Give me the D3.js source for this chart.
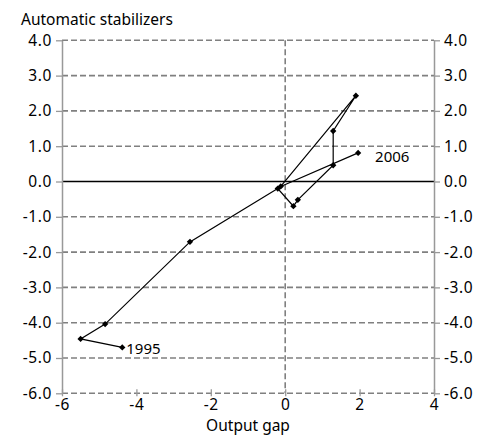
<!DOCTYPE html>
<html>
<head>
<meta charset="utf-8">
<script src="https://cdn.jsdelivr.net/npm/d3@7"></script>
<style>
  body { margin: 0; background: #fff; }
  svg text { font-family: "Noto Sans", "DejaVu Sans", sans-serif; fill: #000; }
</style>
</head>
<body>
<div id="chart"></div>
<script>
// data: output gap (x) vs automatic stabilizers (y), 1995-2006
const years = [1995, 1996, 1997, 1998, 1999, 2000, 2001, 2002, 2003, 2004, 2005, 2006];
const outputGap = [-4.38, -5.50, -4.84, -2.56, -0.20, 0.22, 0.34, 1.29, 1.29, 1.90, -0.12, 1.96];
const stabilizers = [-4.70, -4.46, -4.04, -1.71, -0.20, -0.70, -0.52, 0.46, 1.43, 2.43, -0.14, 0.81];
const yTicks = [-6, -5, -4, -3, -2, -1, 0, 1, 2, 3, 4];
const xTicks = [-6, -4, -2, 0, 2, 4];
const labelled = [1995, 2006];

const width = 491;
const height = 435;

const svg = d3.select("#chart")
  .append("svg")
  .attr("width", width)
  .attr("height", height);

const x = d3.scaleLinear().domain([-6, 4]).range([62, 434]);
const y = d3.scaleLinear().domain([-6, 4]).range([393.3, 40.3]);

// gridlines
svg.append("g")
  .selectAll("line")
  .data(yTicks.filter(d => d !== 0))
  .join("line")
  .attr("x1", x(-6)).attr("x2", x(4))
  .attr("y1", d => y(d)).attr("y2", d => y(d))
  .attr("stroke", "#808080")
  .attr("stroke-width", 1.6)
  .attr("stroke-dasharray", "6,3");

svg.append("line")
  .attr("x1", x(0)).attr("x2", x(0))
  .attr("y1", y(4)).attr("y2", y(-6))
  .attr("stroke", "#808080")
  .attr("stroke-width", 1.6)
  .attr("stroke-dasharray", "6,3");

// zero line
svg.append("line")
  .attr("x1", x(-6)).attr("x2", x(4))
  .attr("y1", y(0)).attr("y2", y(0))
  .attr("stroke", "#000")
  .attr("stroke-width", 1.3);

const fmt = d => d.toFixed(1);

// left axis
const left = svg.append("g")
  .attr("transform", `translate(${x(-6)},0)`)
  .call(d3.axisLeft(y).tickValues(yTicks).tickFormat(fmt).tickSizeInner(6).tickSizeOuter(0).tickPadding(4));

// right axis
const right = svg.append("g")
  .attr("transform", `translate(${x(4)},0)`)
  .call(d3.axisRight(y).tickValues(yTicks).tickFormat(fmt).tickSizeInner(6).tickSizeOuter(0).tickPadding(4));

// bottom axis
const bottom = svg.append("g")
  .attr("transform", `translate(0,${y(-6)})`)
  .call(d3.axisBottom(x).tickValues(xTicks).tickFormat(d => String(d)).tickSizeInner(4).tickSizeOuter(0).tickPadding(2));
bottom.select(".domain").remove();
bottom.selectAll(".tick line").attr("y1", -4).attr("y2", 3);

for (const g of [left, right, bottom]) {
  g.select(".domain").attr("stroke", "#999").attr("stroke-width", 1.5);
  g.selectAll(".tick line").attr("stroke", "#999").attr("stroke-width", 1.3);
  g.selectAll(".tick text")
    .attr("fill", "#000")
    .style("font-size", "15.5px")
    .style("letter-spacing", "0.6px");
}

// data line
const pts = years.map((yr, i) => ({ year: yr, gap: outputGap[i], stab: stabilizers[i] }));

svg.append("path")
  .datum(pts)
  .attr("fill", "none")
  .attr("stroke", "#000")
  .attr("stroke-width", 1.2)
  .attr("d", d3.line().x(d => x(d.gap)).y(d => y(d.stab)));

svg.append("g")
  .selectAll("path")
  .data(pts)
  .join("path")
  .attr("d", d3.symbol().type(d3.symbolSquare).size(20))
  .attr("transform", d => `translate(${x(d.gap)},${y(d.stab)}) rotate(45)`)
  .attr("fill", "#000");

// year labels
svg.append("g")
  .selectAll("text")
  .data(pts.filter(d => labelled.includes(d.year)))
  .join("text")
  .attr("x", d => x(d.gap) + (d.year === 2006 ? 17 : 4))
  .attr("y", d => y(d.stab) + (d.year === 2006 ? 4 : 1))
  .attr("dy", "0.35em")
  .style("font-size", "15px")
  .text(d => d.year);

// titles
svg.append("text")
  .attr("x", 21)
  .attr("y", 25)
  .style("font-size", "15.5px")
  .text("Automatic stabilizers");

svg.append("text")
  .attr("x", 248)
  .attr("y", 431)
  .attr("text-anchor", "middle")
  .style("font-size", "15.5px")
  .text("Output gap");
</script>
</body>
</html>
